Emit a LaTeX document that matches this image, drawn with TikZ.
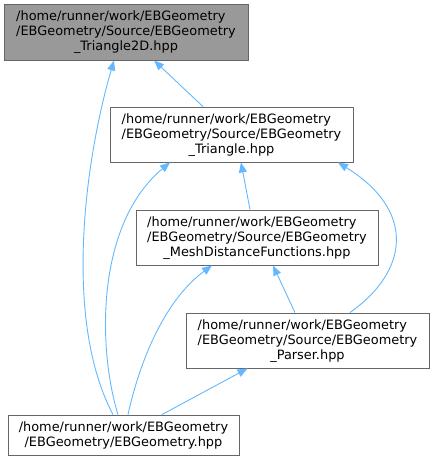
\documentclass[tikz,border=0pt]{standalone}
\usepackage{fontspec}
\setmainfont{DejaVu Sans}
\usetikzlibrary{arrows.meta}
\definecolor{edgeblue}{HTML}{63B8FF}
\definecolor{boxborder}{HTML}{666666}
\definecolor{boxfill}{HTML}{999999}
\newcommand\lefttwo[2]{\begin{tabular}[b]{@{}l@{}}#1\\#2\end{tabular}}
\begin{document}
\begin{tikzpicture}[x=1pt,y=1pt,
  filebox/.style={draw=boxborder,line width=0.9pt,fill=white,align=center,inner sep=0pt,
    font=\fontsize{12.9}{15}\selectfont},
  dep/.style={draw=edgeblue,line width=0.9pt,-{Triangle[length=10pt,width=8pt]}}]
\useasboundingbox (0,0) rectangle (435,-461);
\node[filebox,fill=boxfill,minimum width=244pt,minimum height=56pt] (A) at (126,-32)
  {\lefttwo{/home/runner/work/EBGeometry}{/EBGeometry/Source/EBGeometry}\\\_Triangle2D.hpp};
\node[filebox,minimum width=243pt,minimum height=55pt] (B) at (231.5,-134.5)
  {\lefttwo{/home/runner/work/EBGeometry}{/EBGeometry/Source/EBGeometry}\\\_Triangle.hpp};
\node[filebox,minimum width=242pt,minimum height=55pt] (C) at (257,-237.5)
  {\lefttwo{/home/runner/work/EBGeometry}{/EBGeometry/Source/EBGeometry}\\\_MeshDistanceFunctions.hpp};
\node[filebox,minimum width=243pt,minimum height=55pt] (D) at (307.5,-340.5)
  {\lefttwo{/home/runner/work/EBGeometry}{/EBGeometry/Source/EBGeometry}\\\_Parser.hpp};
\node[filebox,minimum width=231pt,minimum height=40pt] (E) at (123.5,-435)
  {/home/runner/work/EBGeometry\\/EBGeometry/EBGeometry.hpp};
% edges
\draw[dep] ([xshift=-28.5pt]B.north) -- ([xshift=28pt]A.south);
\draw[dep] ([xshift=-10.5pt]E.north) .. controls (63,-320) and (85,-160) .. ([xshift=-12pt]A.south);
\draw[dep] ([xshift=-7pt]C.north) -- ([xshift=9.5pt]B.south);
\draw[dep] ([xshift=-5.5pt]E.north) .. controls (98,-350) and (95,-225) .. ([xshift=-61.5pt]B.south);
\draw[dep] ([xshift=42.5pt]D.north) .. controls (410,-270) and (415,-210) .. ([xshift=106.5pt]B.south);
\draw[dep] ([xshift=-12.5pt]D.north) -- ([xshift=16pt]C.south);
\draw[dep] ([xshift=4.5pt]E.north) .. controls (140,-360) and (165,-300) .. ([xshift=-45pt]C.south);
\draw[dep] ([xshift=38.5pt]E.north) -- ([xshift=-60pt]D.south);
\end{tikzpicture}
\end{document}
